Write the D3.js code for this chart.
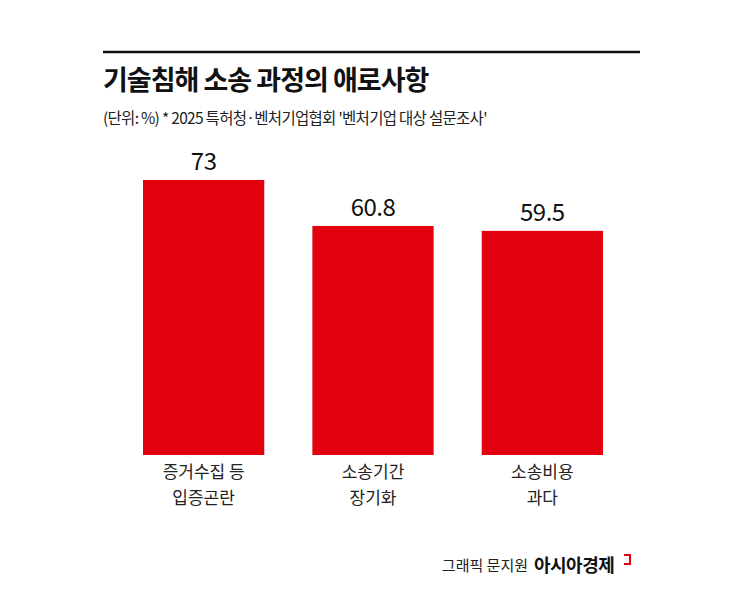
<!DOCTYPE html>
<html><head><meta charset="utf-8">
<script src="https://cdn.jsdelivr.net/npm/d3@7"></script>
<style>body{margin:0;background:#fff}</style></head>
<body><svg id="c" width="745" height="596"></svg>
<script>
const categories=[["증거수집 등","입증곤란"],["소송기간","장기화"],["소송비용","과다"]];
const values=[73,60.8,59.5];
const valueLabels=["73","60.8","59.5"];
const svg=d3.select("#c");
const F="'Noto Sans CJK KR','Noto Sans',sans-serif";
svg.append("line").attr("x1",103).attr("x2",640).attr("y1",52).attr("y2",52).attr("stroke","#111").attr("stroke-width",2.5);
svg.append("text").attr("x",103).attr("y",90).attr("font-family",F).attr("font-weight",700).attr("font-size",27).attr("fill","#111").attr("letter-spacing",-1).text("기술침해 소송 과정의 애로사항");
svg.append("text").attr("x",103).attr("y",124).attr("font-family",F).attr("font-size",15.5).attr("fill","#222").attr("letter-spacing",-0.7).text("(단위: %)  * 2025 특허청·벤처기업협회 '벤처기업 대상 설문조사'");
const x=d3.scaleBand().domain(d3.range(values.length)).range([143,603]).paddingInner(0.284).paddingOuter(0);
const y=d3.scaleLinear().domain([0,73]).range([455,180]);
const g=svg.append("g");
g.selectAll("rect").data(values).join("rect").attr("x",(d,i)=>x(i)).attr("width",x.bandwidth()).attr("y",d=>y(d)).attr("height",d=>455-y(d)).attr("fill","#e3000f");
g.selectAll(".v").data(values).join("text").attr("x",(d,i)=>x(i)+x.bandwidth()/2).attr("y",d=>y(d)-10).attr("text-anchor","middle").attr("font-family",F).attr("font-size",24).attr("fill","#111").attr("letter-spacing",-0.5).text((d,i)=>valueLabels[i]);
categories.forEach((c,i)=>{c.forEach((t,j)=>{svg.append("text").attr("x",x(i)+x.bandwidth()/2).attr("y",478+j*26).attr("text-anchor","middle").attr("font-family",F).attr("font-size",17).attr("fill","#222").text(t);});});
svg.append("text").attr("x",528).attr("y",571).attr("text-anchor","end").attr("font-family",F).attr("font-size",15).attr("fill","#222").text("그래픽 문지원");
svg.append("text").attr("x",534).attr("y",572).attr("font-family",F).attr("font-weight",700).attr("font-size",18).attr("fill","#111").attr("letter-spacing",-0.5).text("아시아경제");
svg.append("path").attr("d","M624,555 h6 v9 h-6").attr("fill","none").attr("stroke","#e3000f").attr("stroke-width",2);
</script></body></html>
